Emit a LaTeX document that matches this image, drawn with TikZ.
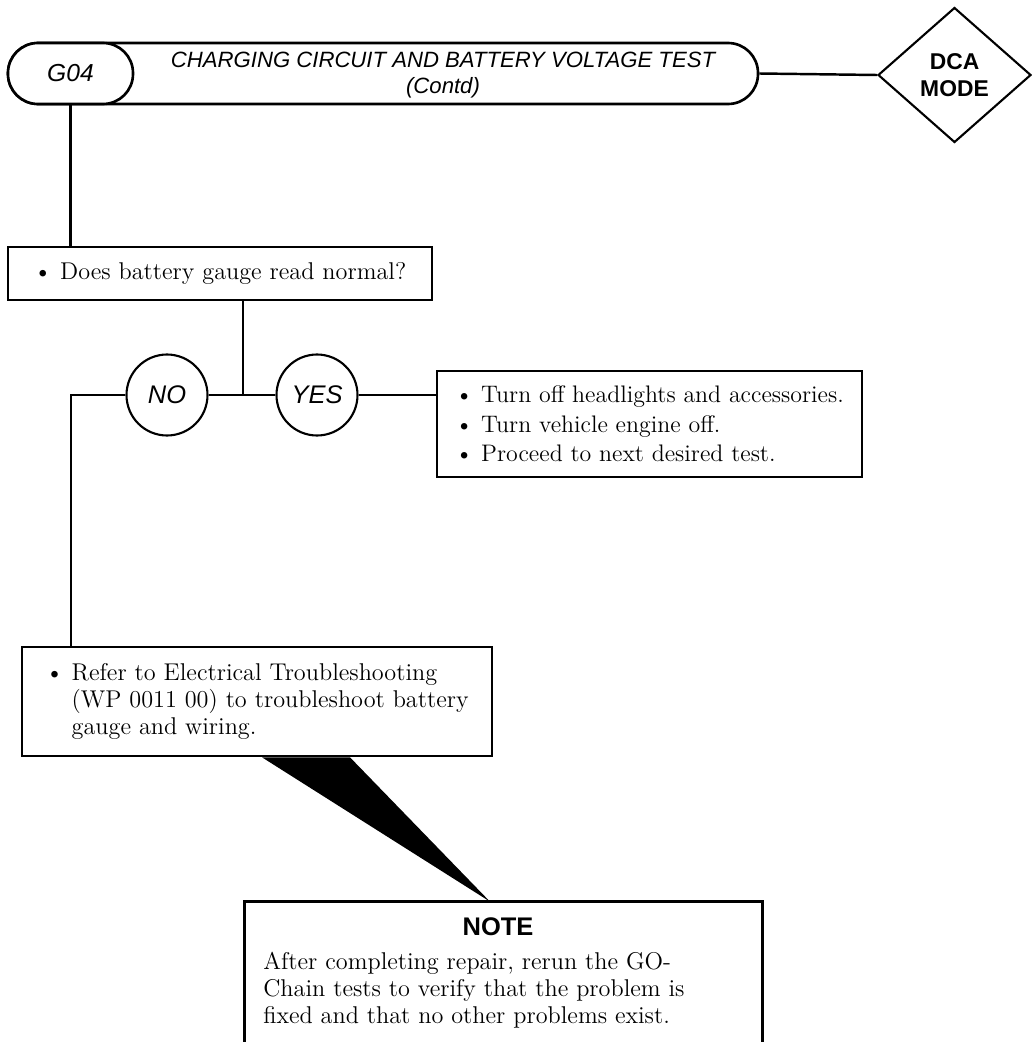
\documentclass[tikz,border=0pt]{standalone}
\usepackage{fontspec}
\newfontfamily\hfont{Liberation Sans}
\usetikzlibrary{positioning,shapes.geometric,calc}
\newcommand{\bodyfont}{\fontsize{13.8}{15.2}\selectfont}
\tikzset{
  pill/.style   ={rectangle,rounded corners=0.6cm,draw,line width=1.5pt,
                  minimum height=1.22cm,inner sep=0pt},
  textbox/.style={rectangle,draw,line width=1.5pt,align=left,inner sep=0pt,
                  font=\bodyfont},
  answer/.style ={circle,draw,line width=1.2pt,minimum size=1.62cm,inner sep=0pt,
                  font=\hfont\itshape\fontsize{14.5}{16}\selectfont},
  mode/.style   ={diamond,draw,line width=1.2pt,inner sep=0pt,align=center,
                  minimum width=3.06cm,minimum height=2.7cm,
                  font=\hfont\bfseries\fontsize{13}{15.3}\selectfont},
  link/.style   ={line width=1.4pt},
}

\begin{document}
\begin{tikzpicture}
  \useasboundingbox (0,0) rectangle (20.64,-20.84);
  % title bar
  \node[pill,minimum width=15cm] (hdr) at (7.66,-1.47) {};
  \node[pill,fill=white,minimum width=2.5cm,
        font=\hfont\itshape\fontsize{14}{16}\selectfont] (g04) at (1.41,-1.47) {G04};
  \node[align=center,font=\hfont\itshape\fontsize{12.6}{14.7}\selectfont] (title)
    at (8.86,-1.5) {CHARGING CIRCUIT AND BATTERY VOLTAGE TEST\\(Contd)};
  \node[mode] (dca) at (19.09,-1.5) {DCA\\MODE};
  % question and answers
  \node[textbox,minimum width=8.48cm,minimum height=1.06cm] (q) at (4.4,-5.47)
    {\textbullet\ Does battery gauge read normal?};
  \coordinate (j) at (4.86,-7.9);
  \coordinate (nl) at (1.42,-7.9);
  \node[answer] (no) at (3.34,-7.9) {NO};
  \node[answer] (yes) at (6.34,-7.9) {YES};
  \node[textbox,minimum width=8.5cm,minimum height=2.12cm,
        font=\fontsize{13.6}{16.7}\selectfont] (ybox) at (12.99,-8.48)
    {\textbullet\ Turn off headlights and accessories.\\
     \textbullet\ Turn vehicle engine off.\\
     \textbullet\ Proceed to next desired test.};
  \node[textbox,minimum width=9.4cm,minimum height=2.18cm] (rbox) at (5.14,-14.03)
    {\textbullet\ Refer to Electrical Troubleshooting\\
     \phantom{\textbullet}\ (WP 0011 00) to troubleshoot battery\\
     \phantom{\textbullet}\ gauge and wiring.};
  % note
  \node[minimum width=10.34cm,minimum height=2.8cm,inner sep=0pt] (note) at (10.07,-19.44) {};
  \node[font=\hfont\bfseries\fontsize{14.5}{16}\selectfont] (ntitle) at (9.96,-18.54) {NOTE};
  \node[align=left,inner sep=0pt,anchor=west,font=\bodyfont] (nbody) at (5.26,-19.8)
    {After completing repair, rerun the GO-\\
     Chain tests to verify that the problem is\\
     fixed and that no other problems exist.};
  % connectors
  \draw[link] (hdr.east) -- (dca.west);
  \draw[link] (g04.south) -- (g04.south |- q.north);
  \draw[link] (j |- q.south) -- (j);
  \draw[link] (j) -- (no.east);
  \draw[link] (j) -- (yes.west);
  \draw[link] (yes.east) -- (yes -| ybox.west);
  \draw[link] (no.west) -- (nl) -- (nl |- rbox.north);
  \fill ($(rbox.south)+(0.1,0)$) -- ($(rbox.south)+(1.86,0)$)
        -- ($(note.north)+(-0.27,0)$) -- cycle;
  \draw[line width=1.5pt] (note.south west) -- (note.north west)
        -- (note.north east) -- (note.south east);
\end{tikzpicture}
\end{document}
